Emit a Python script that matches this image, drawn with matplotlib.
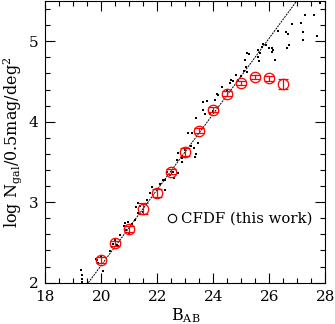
import matplotlib
matplotlib.use("Agg")
import matplotlib.pyplot as plt
from matplotlib.ticker import MultipleLocator

# CFDF counts (this work)
cfdf_mag = [20.0, 20.5, 21.0, 21.5, 22.0, 22.5, 23.0, 23.5, 24.0, 24.5, 25.0, 25.5, 26.0, 26.5]
cfdf_logn = [2.28, 2.49, 2.67, 2.92, 3.12, 3.38, 3.62, 3.89, 4.15, 4.35, 4.48, 4.555, 4.54, 4.47]
cfdf_err = [0.04, 0.03, 0.04, 0.07, 0.05, 0.03, 0.05, 0.03, 0.03, 0.03, 0.03, 0.03, 0.03, 0.06]

# literature counts (black dots)
lit_mag = [19.27, 19.30, 19.32, 19.33, 19.81, 19.84, 19.90, 20.07, 20.00,
           20.31, 20.41, 20.49, 20.67, 20.55, 20.40, 20.60,
           20.85, 20.80, 20.90, 21.00, 21.10, 21.20, 21.30, 20.95,
           21.24, 21.32, 21.40, 21.50, 21.62, 21.74, 21.50, 21.80,
           21.98, 22.10, 22.27, 22.28, 21.95, 22.20, 22.34,
           22.57, 22.69, 22.75, 22.75, 22.87, 22.60, 22.45,
           22.90, 23.00, 23.20, 23.30, 23.35, 23.40, 23.45, 23.11, 23.23,
           23.38, 23.62, 23.64, 23.70, 23.76, 23.90, 24.00, 24.06, 24.12, 24.18, 24.30,
           24.48, 24.60, 24.65, 24.71, 24.80, 24.90, 25.00, 25.13, 25.17, 25.19, 25.19, 25.29, 25.10,
           25.60, 25.64, 25.60, 25.67, 25.73, 25.79, 25.90, 26.00, 26.10, 26.14, 26.10, 26.20, 26.30,
           26.59, 26.66, 26.70, 26.62, 26.82, 27.12, 27.20, 27.20, 27.29, 27.59, 27.70, 27.80]
lit_logn = [2.16, 2.10, 2.05, 2.01, 2.30, 2.28, 2.25, 2.14, 2.32,
            2.39, 2.48, 2.53, 2.59, 2.47, 2.44, 2.45,
            2.74, 2.70, 2.66, 2.62, 2.73, 2.78, 2.86, 2.75,
            2.94, 2.99, 2.95, 2.98, 3.03, 3.11, 2.88, 3.19,
            3.17, 3.23, 3.28, 3.15, 3.05, 3.27, 3.38,
            3.38, 3.52, 3.61, 3.36, 3.50, 3.30, 3.34,
            3.55, 3.65, 3.70, 3.67, 3.56, 3.60, 3.73, 3.86, 3.86,
            4.04, 4.15, 4.25, 4.10, 4.26, 4.10, 4.13, 4.27, 4.35, 4.33, 4.43,
            4.40, 4.48, 4.52, 4.50, 4.58, 4.52, 4.57, 4.77, 4.68, 4.62, 4.85, 4.84, 4.63,
            4.89, 4.76, 4.81, 4.85, 4.93, 4.97, 4.95, 4.92, 4.92, 4.89, 4.86, 4.77, 5.13,
            5.12, 5.09, 4.95, 4.92, 5.21, 5.23, 5.11, 5.02, 5.32, 5.33, 5.06, 5.47]

# fitted power law line
fit_mag = [19.54, 26.98]
fit_logn = [2.0, 5.5]

plt.rcParams['font.family'] = ['DejaVu Serif']
plt.rcParams['mathtext.fontset'] = 'dejavuserif'
fig = plt.figure(figsize=(3.35, 3.24), dpi=100)
ax = fig.add_axes([0.135, 0.1275, 0.836, 0.8695])

ax.plot(fit_mag, fit_logn, color='black', lw=0.7, ls=(0, (2, 1)))
ax.scatter(lit_mag, lit_logn, s=2.5, marker='s', color='black', linewidths=0)
ax.errorbar(cfdf_mag, cfdf_logn, yerr=cfdf_err, fmt='o', mfc='none', mec='red',
            ms=7.5, mew=0.9, ecolor='red', elinewidth=0.9, capsize=3.5, capthick=0.9)

ax.plot([22.51], [2.8], 'o', mfc='none', mec='black', ms=6, mew=0.8)
ax.text(22.85, 2.8, 'CFDF (this work)', fontsize=10.7, va='center', ha='left')

ax.set_xlim(18, 28)
ax.set_ylim(2, 5.5)
ax.xaxis.set_major_locator(MultipleLocator(2))
ax.xaxis.set_minor_locator(MultipleLocator(0.5))
ax.yaxis.set_major_locator(MultipleLocator(1))
ax.yaxis.set_minor_locator(MultipleLocator(0.2))
ax.tick_params(which='both', direction='in', top=True, right=True, labelsize=11)
ax.tick_params(which='major', length=7, width=0.8, pad=5)
ax.tick_params(which='minor', length=3.5, width=0.8)
ax.tick_params(axis='y', pad=5)
for s in ax.spines.values():
    s.set_linewidth(0.8)

ax.set_xlabel('B$_{\\rm AB}$', fontsize=11.5, labelpad=2)
ax.set_ylabel('log N$_{\\rm gal}$/0.5mag/deg$^2$', fontsize=11.5, labelpad=3)

fig.savefig('out.png', dpi=100)
